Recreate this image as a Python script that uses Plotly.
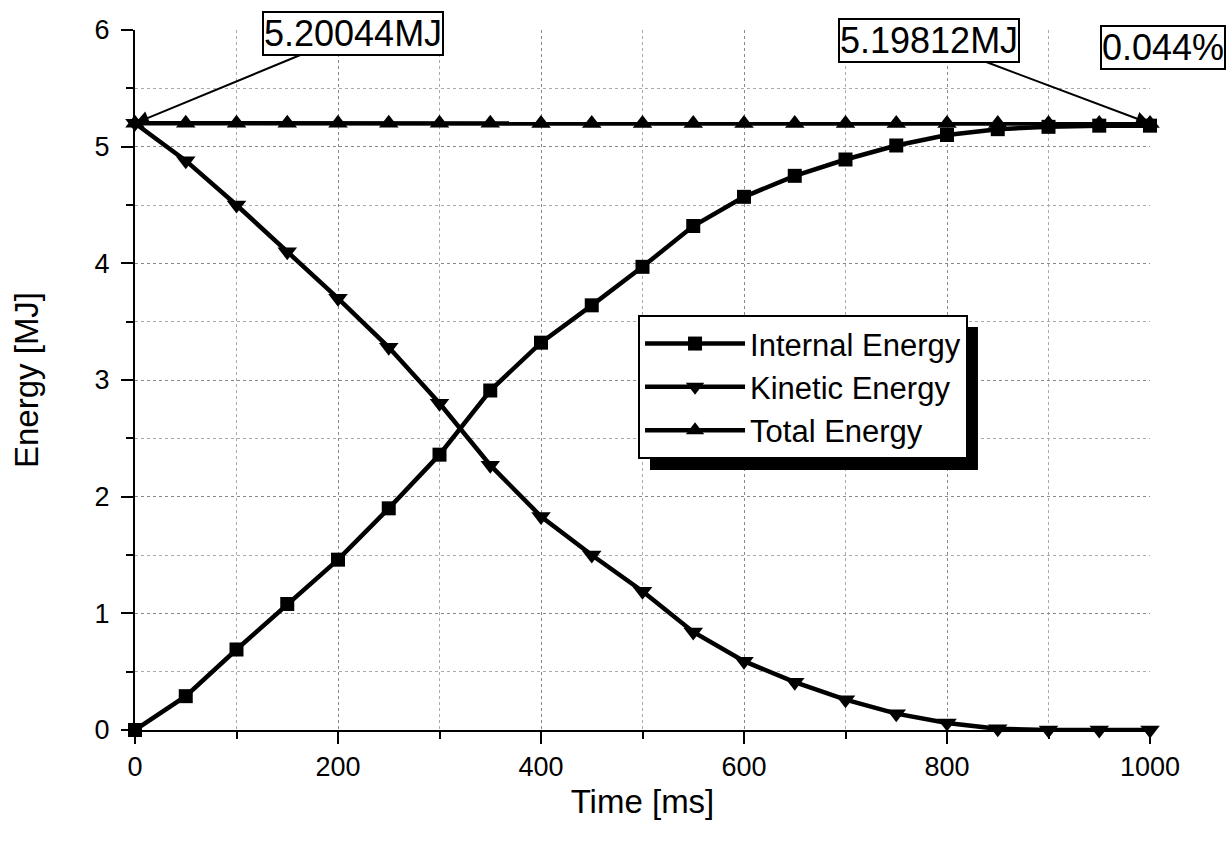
import plotly.graph_objects as go

time_ms = [0, 50, 100, 150, 200, 250, 300, 350, 400, 450, 500,
           550, 600, 650, 700, 750, 800, 850, 900, 950, 1000]
internal_energy = [0.0, 0.29, 0.69, 1.08, 1.46, 1.90, 2.36, 2.91, 3.32, 3.64, 3.97,
                   4.32, 4.57, 4.75, 4.89, 5.01, 5.10, 5.15, 5.17, 5.18, 5.18]
kinetic_energy = [5.20, 4.88, 4.50, 4.10, 3.70, 3.28, 2.80, 2.27, 1.83, 1.50, 1.19,
                  0.84, 0.59, 0.41, 0.26, 0.14, 0.06, 0.01, 0.0, 0.0, 0.0]
total_energy = [5.20044, 5.2003, 5.2002, 5.2001, 5.2000, 5.1999, 5.1998, 5.1997, 5.1996, 5.1995, 5.1994,
                5.1993, 5.1992, 5.1991, 5.1990, 5.1989, 5.1988, 5.1987, 5.1986, 5.1984, 5.19812]

FONT = "Liberation Sans, Arial, sans-serif"

fig = go.Figure()
series = [
    ("Internal Energy", internal_energy, "square", 14),
    ("Kinetic Energy", kinetic_energy, "triangle-down", 17),
    ("Total Energy", total_energy, "triangle-up", 17),
]
for name, ys, sym, sz in series:
    fig.add_trace(go.Scatter(
        x=time_ms, y=ys, name=name, mode="lines+markers",
        line=dict(color="black", width=4.5),
        marker=dict(symbol=sym, size=sz, color="black"),
        cliponaxis=False,
    ))

axis_common = dict(
    showline=True, linecolor="black", linewidth=2,
    ticks="outside", ticklen=12, tickwidth=2, tickcolor="black",
    showgrid=True, gridcolor="#888888", griddash="dot", gridwidth=1,
    zeroline=False, mirror=False,
    tickfont=dict(family=FONT, size=27, color="black"),
    title_font=dict(family=FONT, size=33, color="black"),
)

fig.update_xaxes(
    range=[0, 1000], dtick=200, title_text="Time [ms]", title_standoff=8,
    minor=dict(dtick=100, ticks="outside", ticklen=7, tickwidth=2, tickcolor="black",
               showgrid=True, gridcolor="#aaaaaa", griddash="dot", gridwidth=1),
    **axis_common,
)
fig.update_yaxes(
    range=[0, 6], dtick=1, title_text="Energy [MJ]", title_standoff=46,
    ticklabelstandoff=6,
    minor=dict(dtick=0.5, ticks="outside", ticklen=7, tickwidth=2, tickcolor="black",
               showgrid=True, gridcolor="#aaaaaa", griddash="dot", gridwidth=1),
    **axis_common,
)

# legend shadow (offset ~12 px right/down of the legend box)
fig.add_shape(type="rect", xref="paper", yref="paper",
              x0=0.5074, x1=0.8305, y0=0.3714, y1=0.5757,
              fillcolor="black", line=dict(width=0), layer="above")

ann_font = dict(family=FONT, size=36, color="black")
fig.add_annotation(x=0, y=5.20044, text="5.20044MJ", ax=218, ay=-90,
                   showarrow=True, arrowhead=2, arrowsize=1.4, arrowwidth=2, arrowcolor="black",
                   font=ann_font, bgcolor="white", bordercolor="black", borderwidth=2, borderpad=0)
fig.add_annotation(x=1000, y=5.19812, text="5.19812MJ", ax=-221, ay=-83,
                   showarrow=True, arrowhead=2, arrowsize=1.4, arrowwidth=2, arrowcolor="black",
                   font=ann_font, bgcolor="white", bordercolor="black", borderwidth=2, borderpad=0)
fig.add_annotation(xref="paper", yref="paper", x=1.0128, y=0.9757, text="0.044%",
                   xanchor="center", yanchor="middle",
                   showarrow=False, font=ann_font, bgcolor="white",
                   bordercolor="black", borderwidth=2, borderpad=0)

fig.update_layout(
    width=1229, height=852,
    margin=dict(l=135, r=79, t=30, b=122),
    paper_bgcolor="white", plot_bgcolor="white",
    font=dict(family=FONT, color="black"),
    legend=dict(x=0.4956, y=0.593, xanchor="left", yanchor="top",
                bgcolor="white", bordercolor="black", borderwidth=2,
                font=dict(family=FONT, size=31, color="black"),
                itemwidth=100, tracegroupgap=0),
    showlegend=True,
)

fig.write_html("out.html")
